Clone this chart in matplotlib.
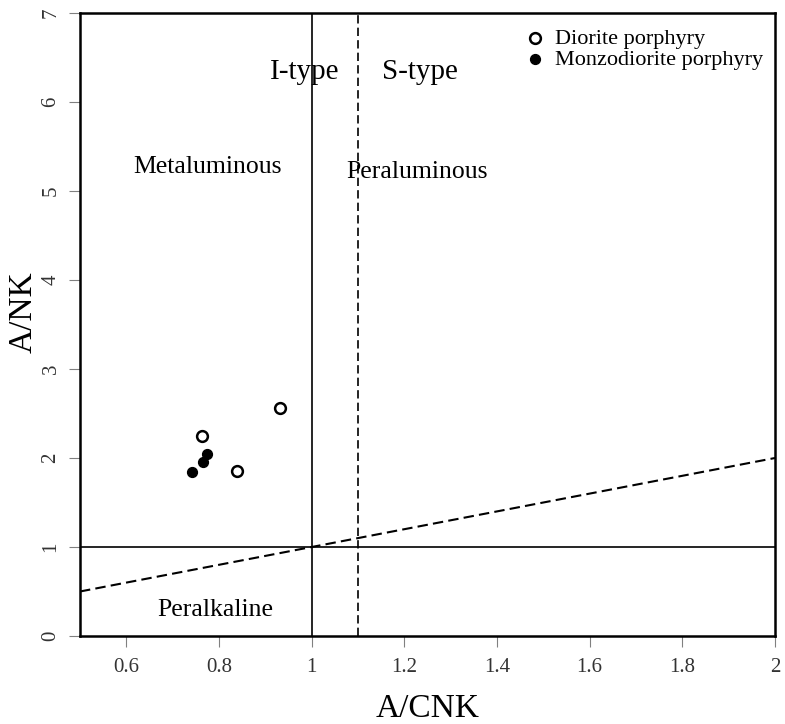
import matplotlib
matplotlib.use("Agg")
import matplotlib.pyplot as plt

plt.rcParams['font.family'] = ['Liberation Serif', 'DejaVu Serif']

# sample data (A/CNK, A/NK)
diorite_acnk = [0.763, 0.839, 0.932]
diorite_ank = [2.25, 1.85, 2.56]
monzo_acnk = [0.742, 0.765, 0.774]
monzo_ank = [1.84, 1.95, 2.05]

# boundary lines
x_limits = [0.5, 2.0]
y_limits = [0, 7]

fig = plt.figure(figsize=(7.85, 7.24), dpi=100)
ax = fig.add_axes([80 / 785, 1 - 636 / 724, 695 / 785, 623 / 724])

ax.axvline(1.0, color='black', lw=1.2)
ax.axvline(1.1, color='black', lw=1.2, ls=(0, (5, 2.5)))
ax.axhline(1.0, color='black', lw=1.2)
ax.plot(x_limits, x_limits, color='black', lw=1.5, ls=(0, (5, 2.5)))

ax.scatter(diorite_acnk, diorite_ank, s=60, facecolors='white', edgecolors='black',
           linewidths=1.8, zorder=3, label='Diorite porphyry')
ax.scatter(monzo_acnk, monzo_ank, s=50, color='black', zorder=3, label='Monzodiorite porphyry')

ax.text(0.985, 6.34, 'I-type', fontsize=21, ha='center', va='center')
ax.text(1.234, 6.34, 'S-type', fontsize=21, ha='center', va='center')
ax.text(0.776, 5.27, 'Metaluminous', fontsize=18.5, ha='center', va='center')
ax.text(1.227, 5.21, 'Peraluminous', fontsize=18.5, ha='center', va='center')
ax.text(0.791, 0.29, 'Peralkaline', fontsize=18.5, ha='center', va='center')

ax.set_xlim(x_limits)
ax.set_ylim(y_limits)
ax.set_xticks([0.6, 0.8, 1.0, 1.2, 1.4, 1.6, 1.8, 2.0])
ax.set_xticklabels(['0.6', '0.8', '1', '1.2', '1.4', '1.6', '1.8', '2'])
ax.set_yticks(range(0, 8))
ax.tick_params(axis='both', labelsize=15, color='gray', length=8, width=0.8, pad=8,
               labelcolor='#333333')
ax.tick_params(axis='y', pad=6)
for lbl in ax.get_yticklabels():
    lbl.set_rotation(90)
    lbl.set_va('center')
for sp in ax.spines.values():
    sp.set_linewidth(1.8)

ax.set_xlabel('A/CNK', fontsize=24, labelpad=12)
ax.set_ylabel('A/NK', fontsize=24)
ax.yaxis.set_label_coords((39 - 80) / 695, 0.52)

ax.legend(loc='upper left', bbox_to_anchor=((522 - 80) / 695, 1 - (28 - 13) / 623),
          frameon=False, fontsize=16, handletextpad=0.3, borderaxespad=0,
          labelspacing=0.05, handlelength=1.2, borderpad=0)

fig.savefig('out.png', dpi=100)
